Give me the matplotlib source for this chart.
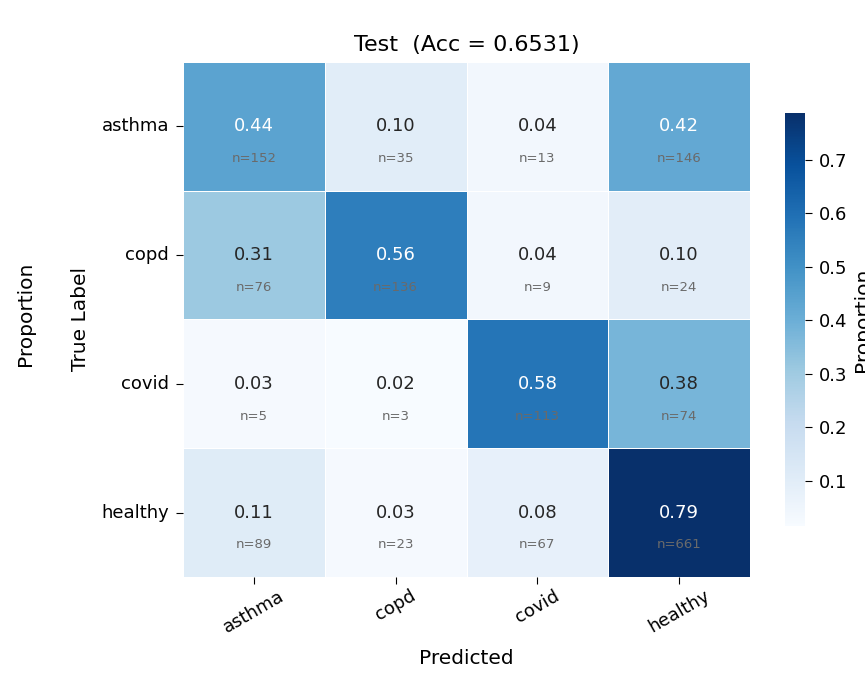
import numpy as np
import matplotlib
matplotlib.use('Agg')
import matplotlib.pyplot as plt
import seaborn as sns

labels = ['asthma', 'copd', 'covid', 'healthy']
# counts per true label (rows) vs predicted label (cols)
counts_asthma = [152, 35, 13, 146]
counts_copd = [76, 136, 9, 24]
counts_covid = [5, 3, 113, 74]
counts_healthy = [89, 23, 67, 661]

cm = np.array([counts_asthma, counts_copd, counts_covid, counts_healthy])
prop = cm / cm.sum(axis=1, keepdims=True)
acc = np.trace(cm) / cm.sum()

fig = plt.figure(figsize=(8.65, 6.75), dpi=100)
ax = fig.add_axes([0.2116, 0.1452, 0.6555, 0.7630])
cax = fig.add_axes([0.9075, 0.2207, 0.0231, 0.6119])

sns.heatmap(prop, ax=ax, cbar_ax=cax, cmap='Blues', annot=False,
            linewidths=0.7, linecolor='white',
            xticklabels=labels, yticklabels=labels,
            cbar_kws={'label': 'Proportion'})

for i in range(4):
    for j in range(4):
        v = prop[i, j]
        col = 'white' if v > 0.4 else '#262626'
        ax.text(j + 0.5, i + 0.5, f'{v:.2f}', ha='center', va='center',
                fontsize=13, color=col)
        ax.text(j + 0.5, i + 0.75, f'n={cm[i, j]}', ha='center', va='center',
                fontsize=9.5, color='#6a6a6a')

ax.set_title(f'Test  (Acc = {acc:.4f})', fontsize=16, pad=8)
ax.set_xlabel('Predicted', fontsize=14.5, labelpad=9)
ax.set_ylabel('True Label', fontsize=14.5, labelpad=8)
ax.tick_params(axis='y', labelsize=13, length=5, pad=5)
ax.tick_params(axis='x', labelsize=13, length=5, pad=2)
plt.setp(ax.get_xticklabels(), rotation=30, ha='center')
plt.setp(ax.get_yticklabels(), rotation=0)

cax.set_yticks([0.1, 0.2, 0.3, 0.4, 0.5, 0.6, 0.7])
cax.tick_params(labelsize=13, length=5, pad=5)
cax.yaxis.label.set_size(14.5)

# leftover label from neighbouring panel
fig.text(0.029, 0.535, 'Proportion', rotation=90, ha='center', va='center', fontsize=14.5)

fig.savefig('out.png', dpi=100)
